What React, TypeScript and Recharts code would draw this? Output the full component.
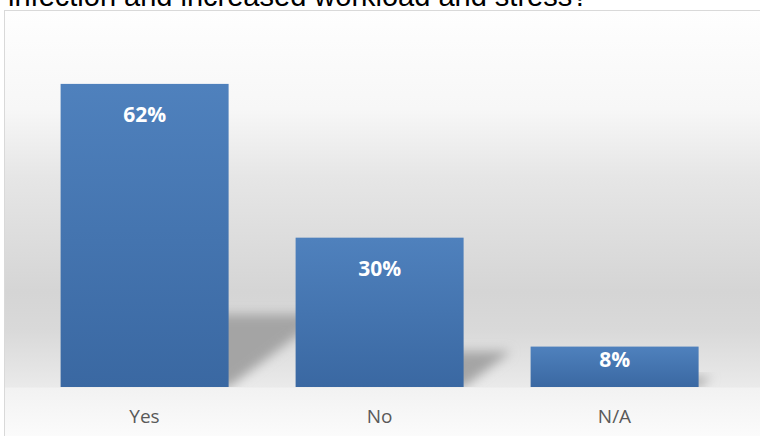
import { BarChart, Bar, XAxis, YAxis, LabelList } from "recharts";

// answer categories and share of respondents (label shows rounded value)
const categories = ["Yes", "No", "N/A"];
const shares = [61.5, 30.3, 8.2];
const labels = ["62%", "30%", "8%"];

const data = categories.map((name, i) => ({ name, value: shares[i], label: labels[i] }));

const BAR_TOP = "#4f81bd";
const BAR_BOTTOM = "#3a68a2";

// bar with a soft perspective shadow cast to the right
function ShadowBar(props: any) {
  const { x, y, width, height } = props;
  const bottom = y + height;
  const right = x + width;
  const sh = height * 0.24;
  const pts = [
    [right - 20, bottom],
    [right - 20, bottom - sh],
    [right + sh * 1.33, bottom - sh],
    [right, bottom],
  ]
    .map((p) => p.join(","))
    .join(" ");
  return (
    <g>
      <polygon points={pts} fill="#a4a4a4" filter="url(#shadowBlur)" />
      <rect x={x} y={y} width={width} height={height} fill="url(#barFill)" />
    </g>
  );
}

function BarLabel(props: any) {
  const { x, y, width, height, value } = props;
  const cy = y + Math.min(30, height * 0.3);
  return (
    <text
      x={x + width / 2}
      y={cy}
      textAnchor="middle"
      dominantBaseline="central"
      fill="#ffffff"
      fontFamily="'Open Sans', sans-serif"
      fontWeight={700}
      fontSize={21}
    >
      {value}
    </text>
  );
}

export default function App() {
  return (
    <div
      style={{
        position: "absolute",
        left: 0,
        top: 0,
        width: 760,
        height: 436,
        overflow: "hidden",
        background: "#ffffff",
      }}
    >
      <div
        style={{
          position: "absolute",
          left: 8,
          top: -18.5,
          fontFamily: "'Liberation Sans', Arial, sans-serif",
          fontSize: 29,
          lineHeight: "29px",
          color: "#000",
          whiteSpace: "nowrap",
        }}
      >
        infection and increased workload and stress?
      </div>
      <div
        style={{
          position: "absolute",
          left: 4,
          top: 10,
          width: 770,
          height: 427,
          border: "1px solid #d9d9d9",
          boxSizing: "border-box",
          background:
            "linear-gradient(to bottom, #fefefe 0%, #f7f7f7 23%, #e6e6e6 39%, #d5d5d5 66%, #d9d9d9 75%, #e4e4e4 84%, #eaeaea 88.5%, #f2f2f2 88.7%, #fbfbfb 100%)",
        }}
      />
      <div style={{ position: "absolute", left: 0, top: 0 }}>
        <BarChart
          width={760}
          height={436}
          data={data}
          margin={{ top: 42, right: 28, bottom: 0, left: 27 }}
          barCategoryGap="14.3%"
        >
          <defs>
            <linearGradient id="barFill" x1="0" y1="0" x2="0" y2="1">
              <stop offset="0%" stopColor={BAR_TOP} />
              <stop offset="100%" stopColor={BAR_BOTTOM} />
            </linearGradient>
            <filter id="shadowBlur" x="-50%" y="-50%" width="200%" height="200%">
              <feGaussianBlur stdDeviation="5.5" />
            </filter>
          </defs>
          <YAxis hide domain={[0, 70]} allowDataOverflow />
          <XAxis
            dataKey="name"
            height={49}
            axisLine={false}
            tickLine={false}
            tickMargin={17}
            tick={{ fill: "#595959", fontSize: 19, fontFamily: "'Open Sans', sans-serif" }}
          />
          <Bar dataKey="value" shape={<ShadowBar />} isAnimationActive={false}>
            <LabelList dataKey="label" content={<BarLabel />} />
          </Bar>
        </BarChart>
      </div>
    </div>
  );
}
